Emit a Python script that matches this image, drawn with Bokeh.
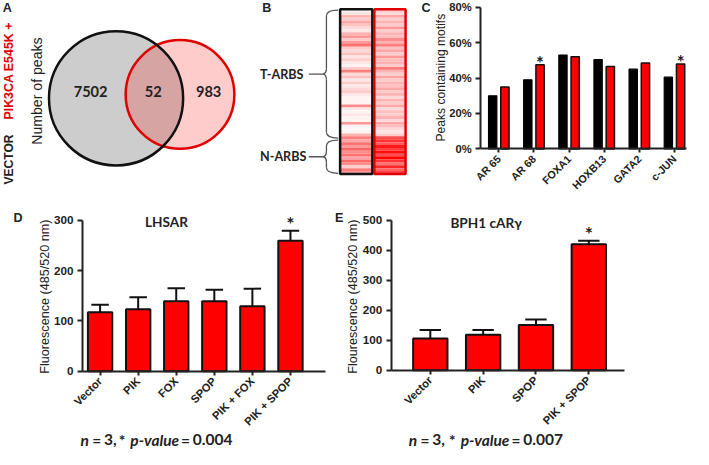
import math
from bokeh.plotting import figure
from bokeh.models import (Range1d, FixedTicker, PrintfTickFormatter, Label, ColumnDataSource,
                          Whisker, TeeHead)
from bokeh.layouts import row, column
from bokeh.transform import dodge, linear_cmap
from bokeh.core.properties import value
from bokeh.embed import file_html
from bokeh.resources import INLINE

# ---------------- data ----------------
venn_sets = ["VECTOR", "PIK3CA E545K +"]
venn_counts = [7502, 52, 983]          # vector only, shared, PIK3CA only

heat_groups = ["T-ARBS", "N-ARBS"]
n_t_arbs = 45                          # rows belonging to T-ARBS, rest N-ARBS
heat_vector = [0.05, 0.10, 0.30, 0.20, 0.35, 0.25, 0.15, 0.10, 0.30, 0.40,
               0.20, 0.40, 0.55, 0.20, 0.15, 0.25, 0.10, 0.20, 0.10, 0.05,
               0.20, 0.50, 0.15, 0.25, 0.10, 0.20, 0.10, 0.15, 0.20, 0.10,
               0.05, 0.05, 0.05, 0.45, 0.10, 0.05, 0.10, 0.05, 0.05, 0.40,
               0.05, 0.03, 0.05, 0.30, 0.50, 0.35, 0.55, 0.40, 0.60, 0.45,
               0.55, 0.35, 0.60, 0.45, 0.20, 0.50, 0.40]
heat_pik = [0.20, 0.15, 0.35, 0.20, 0.30, 0.20, 0.40, 0.20, 0.30, 0.25,
            0.45, 0.30, 0.50, 0.25, 0.35, 0.20, 0.40, 0.25, 0.30, 0.20,
            0.50, 0.30, 0.20, 0.35, 0.20, 0.30, 0.25, 0.35, 0.20, 0.30,
            0.15, 0.30, 0.20, 0.35, 0.15, 0.25, 0.20, 0.30, 0.15, 0.35,
            0.25, 0.15, 0.10, 0.20, 0.70, 0.80, 0.65, 0.90, 0.75, 0.95,
            0.70, 1.00, 0.80, 0.55, 0.85, 0.60, 0.75]

motifs = ["AR 65", "AR 68", "FOXA1", "HOXB13", "GATA2", "c-JUN"]
motif_vector = [30, 39, 53, 50.5, 45, 40.5]
motif_pik = [35, 47.5, 52, 46.5, 48.5, 48]
motif_sig = ["AR 68", "c-JUN"]
motif_ticks = [0, 20, 40, 60, 80]

lhsar_groups = ["Vector", "PIK", "FOX", "SPOP", "PIK + FOX", "PIK + SPOP"]
lhsar_mean = [117, 123, 139, 139, 129, 259]
lhsar_low = [107, 103, 115, 118, 95, 241]
lhsar_high = [132, 147, 165, 162, 164, 279]
lhsar_sig = ["PIK + SPOP"]
lhsar_ticks = [0, 100, 200, 300]
lhsar_note = [("n", True), ("=", False), ("3,", False), ("*", False), ("p-value", True),
              ("=", False), ("0.004", False)]

bph1_groups = ["Vector", "PIK", "SPOP", "PIK + SPOP"]
bph1_mean = [106, 118, 151, 420]
bph1_low = [80, 103, 136, 408]
bph1_high = [134, 134, 169, 432]
bph1_sig = ["PIK + SPOP"]
bph1_ticks = [0, 100, 200, 300, 400, 500]
bph1_note = [("n", True), ("=", False), ("3,", False), ("*", False), ("p-value", True),
             ("=", False), ("0.007", False)]

# ---------------- style ----------------
SX = 693 / 709
SY = 449 / 465
SF = (SX + SY) / 2
TXT = "Lato"
ARIAL = "Liberation Sans"
AXC = "#222222"
RED = "#ff0000"


def fs(px):
    return f"{px * SF:.1f}px"


def make_fig(w, h, xr, yr):
    p = figure(width=round(w * SX), height=round(h * SY), x_range=xr, y_range=yr,
               output_backend="svg", toolbar_location=None,
               min_border_left=0, min_border_right=0, min_border_top=0, min_border_bottom=0)
    p.outline_line_color = None
    p.background_fill_color = "white"
    p.border_fill_color = "white"
    p.xgrid.visible = False
    p.ygrid.visible = False
    return p


def lab(p, x, y, text, size, font=TXT, style="normal", color="#222222", angle=0,
        align="center", baseline="middle"):
    p.add_layout(Label(x=x, y=y, text=text, text_font=font, text_font_size=fs(size),
                       text_font_style=style, text_color=color, angle=angle,
                       text_align=align, text_baseline=baseline))


class Panel:
    """Axes panel whose frame fills the figure; axes drawn at fixed locations."""

    def __init__(self, w, h, c0, step, zero_py, ppu, ax_left, ax_right, ymax, labels, yticks,
                 xsize=11.5, ysize=12, fmt=None):
        self.c0, self.step, self.zero_py, self.ppu = c0, step, zero_py, ppu
        xr = Range1d((0 - c0) / step, (w - c0) / step)
        yr = Range1d((zero_py - h) / ppu, zero_py / ppu)
        p = make_fig(w, h, xr, yr)
        xl, xh = (ax_left - c0) / step, (ax_right - c0) / step
        p.yaxis.fixed_location = xl
        p.yaxis.bounds = (0, ymax)
        p.xaxis.fixed_location = 0
        p.xaxis.bounds = (xl, xh)
        p.xaxis.ticker = FixedTicker(ticks=list(range(len(labels))))
        p.xaxis.major_label_overrides = {i: l for i, l in enumerate(labels)}
        p.xaxis.major_label_orientation = math.pi / 4
        p.yaxis.ticker = FixedTicker(ticks=yticks)
        if fmt is not None:
            p.yaxis.formatter = fmt
        for ax in p.axis:
            ax.axis_line_width = 2
            ax.axis_line_color = AXC
            ax.major_tick_line_width = 2
            ax.major_tick_line_color = AXC
            ax.major_tick_out = 5
            ax.major_tick_in = 0
            ax.minor_tick_line_color = None
            ax.major_label_text_font = ARIAL
            ax.major_label_text_font_style = "bold"
            ax.major_label_text_color = "#222222"
            ax.major_label_standoff = 4
        p.xaxis.major_label_text_font_size = fs(xsize)
        p.yaxis.major_label_text_font_size = fs(ysize)
        p.xaxis.major_tick_out = 4
        self.p = p

    def d(self, px, py):
        return (px - self.c0) / self.step, (self.zero_py - py) / self.ppu


# ---------------- A: Venn (y measured upward, 0..220) ----------------
pa = make_fig(242, 220, Range1d(0, 242), Range1d(0, 220))
pa.xaxis.visible = False
pa.yaxis.visible = False
pa.circle(x=[118], y=[220 - 101.5], radius=68.5, fill_color="#cdcdcd", line_color=None)
pa.circle(x=[183.3], y=[220 - 97.5], radius=55.5, fill_color=RED, fill_alpha=0.2, line_color=None)
pa.circle(x=[183.3], y=[220 - 97.5], radius=55.5, fill_color=None, line_color="#e00000", line_width=2.5)
pa.circle(x=[118], y=[220 - 101.5], radius=68.5, fill_color=None, line_color="#111111", line_width=2.5)
pa.text(x=[92, 156, 212.5], y=[220 - 94] * 3, text=[str(c) for c in venn_counts],
        text_font=value(TXT), text_font_style="bold", text_font_size=value(fs(15)),
        text_align="center", text_baseline="middle", text_color="#222222")
lab(pa, 7, 220 - 8, "A", 13, font=ARIAL, style="bold")
lab(pa, 37, 220 - 94, "Number of peaks", 14.5, font=ARIAL, angle=math.pi / 2)
lab(pa, 9, 220 - 165, venn_sets[0], 12.5, font=ARIAL, style="bold", angle=math.pi / 2)
lab(pa, 9, 220 - 73, venn_sets[1], 12.8, font=ARIAL, style="bold", color="#e00000", angle=math.pi / 2)

# ---------------- B: heatmap (rows counted downward) ----------------
nrow = len(heat_vector)
pb = make_fig(176, 220, Range1d(0, 176), Range1d((220 - 9) / 3, -9 / 3))
pb.xaxis.visible = False
pb.yaxis.visible = False
pal = ["#ff%02x%02x" % (255 - i, 255 - i) for i in range(256)]
hsrc = ColumnDataSource(dict(
    x=[121.5] * nrow + [156] * nrow,
    y=[i + 0.5 for i in range(nrow)] * 2,
    v=heat_vector + heat_pik))
pb.rect(x="x", y="y", width=32, height=1.02, source=hsrc,
        fill_color=linear_cmap("v", pal, 0, 1), line_color=None)
pb.rect(x=[121.5], y=[nrow / 2], width=33, height=nrow, fill_color=None,
        line_color="#111111", line_width=2.5)
pb.rect(x=[156], y=[nrow / 2], width=32, height=nrow, fill_color=None,
        line_color="#e00000", line_width=2.5)


def brace(p, top, bot, xe=103, xs=91, xt=87, xd=73, c=2.0):
    mid = (top + bot) / 2
    p.quadratic(x0=[xe, xs, xt, xs], y0=[top, mid - c, mid, bot - c],
                x1=[xs, xt, xs, xe], y1=[top + c, mid, mid + c, bot],
                cx=[xs, xs, xs, xs], cy=[top, mid, mid, bot],
                line_color="#555555", line_width=1.3)
    p.segment(x0=[xs, xs, xd], y0=[top + c, mid + c, mid], x1=[xs, xs, xt], y1=[mid - c, bot - c, mid],
              line_color="#555555", line_width=1.3)
    return mid


m1 = brace(pb, 0.3, n_t_arbs - 0.4)
m2 = brace(pb, n_t_arbs + 0.3, nrow - 0.2)
lab(pb, 23, m1, heat_groups[0], 13, style="bold", align="left")
lab(pb, 23, m2, heat_groups[1], 13, style="bold", align="left")
lab(pb, 30, -0.3, "B", 13, font=ARIAL, style="bold")

# ---------------- C: motif bars ----------------
C = Panel(291, 220, 91.5, 36, 154, 147 / 80, 73, 284, 80, motifs, motif_ticks,
          xsize=11, ysize=11.5, fmt=PrintfTickFormatter(format="%d%%"))
pc = C.p
csrc = ColumnDataSource(dict(x=list(range(len(motifs))), vec=motif_vector, pik=motif_pik))
pc.vbar(x=dodge("x", -0.174), top="vec", width=0.236, source=csrc,
        fill_color="#000000", line_color="#000000", line_width=1.2)
pc.vbar(x=dodge("x", 0.174), top="pik", width=0.236, source=csrc,
        fill_color=RED, line_color="#111111", line_width=1.5)
for i, m in enumerate(motifs):
    if m in motif_sig:
        lab(pc, i + 0.174, motif_pik[i] + 2 / C.ppu, "*", 19, style="bold")
lab(pc, *C.d(17, 8), "C", 13, font=ARIAL, style="bold")
lab(pc, *C.d(32, 80), "Peaks containing motifs", 12.5, font=ARIAL, angle=math.pi / 2)


# ---------------- D / E: fluorescence bars ----------------
def bar_panel(w, c0, step, zero_py, ppu, ax_left, ax_right, ymax, groups, mean, low, high,
              sig, ticks, bw, cap, star_gap):
    P = Panel(w, 245, c0, step, zero_py, ppu, ax_left, ax_right, ymax, groups, ticks)
    p = P.p
    src = ColumnDataSource(dict(x=list(range(len(groups))), top=mean, lower=low, upper=high))
    p.vbar(x="x", top="top", width=bw, source=src, fill_color=RED, line_color="#111111", line_width=2)
    p.add_layout(Whisker(base="x", lower="lower", upper="upper", source=src,
                         line_color="#111111", line_width=2,
                         upper_head=TeeHead(size=cap * SF, line_color="#111111", line_width=2),
                         lower_head=TeeHead(size=cap * SF, line_color="#111111", line_width=2)))
    for i, g in enumerate(groups):
        if g in sig:
            lab(p, i, high[i] + star_gap / ppu, "*", 20, style="bold")
    return P


def note(P, xs, items):
    for px, (t, it) in zip(xs, items):
        lab(P.p, *P.d(px, 235), t, 16, style="bold italic" if it else "bold", align="left")


D = bar_panel(338, 102, 39, 164, 156 / 300, 84, 333, 300, lhsar_groups, lhsar_mean, lhsar_low,
              lhsar_high, lhsar_sig, lhsar_ticks, 0.64, 18, 8)
pd = D.p
lab(pd, *D.d(18, 6), "D", 13, font=ARIAL, style="bold")
lab(pd, *D.d(170, 10), "LHSAR", 14, style="bold")
lab(pd, *D.d(46, 87), "Fluorescence (485/520 nm)", 13, font=ARIAL, angle=math.pi / 2)
note(D, [82, 94, 106, 121, 133, 185, 197], lhsar_note)

E = bar_panel(371, 102, 54, 163, 155 / 500, 62, 300, 500, bph1_groups, bph1_mean, bph1_low,
              bph1_high, bph1_sig, bph1_ticks, 0.65, 22, 7)
pe = E.p
lab(pe, *E.d(9, 6), "E", 13, font=ARIAL, style="bold")
lab(pe, *E.d(159, 11), "BPH1 cARγ", 14, style="bold")
lab(pe, *E.d(23, 87), "Flourescence (485/520 nm)", 13, font=ARIAL, angle=math.pi / 2)
note(E, [80, 92, 104, 121, 133, 185, 197], bph1_note)

layout = column(row(pa, pb, pc), row(pd, pe))
open("out.html", "w").write(file_html(layout, INLINE))
